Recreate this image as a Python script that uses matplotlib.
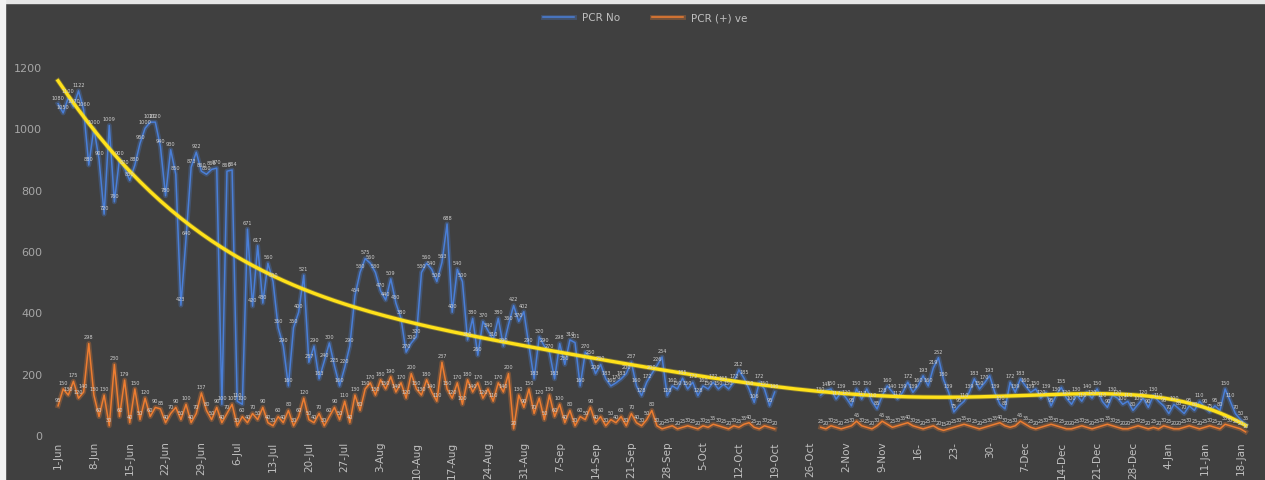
import numpy as np
import pandas as pd
import matplotlib
matplotlib.use("Agg")
import matplotlib.pyplot as plt
import matplotlib.patheffects as pe
from matplotlib.patches import Rectangle

# PCR No, 1-Jun .. 19-Oct
pcr_no_1 = [1080, 1050, 1100, 1070, 1122, 1060, 880, 1000, 900, 720,
            1009, 760, 900, 870, 830, 880, 950, 1000, 1020, 1020,
            940, 780, 930, 850, 423, 640, 873, 922, 860, 850,
            866, 870, 100, 860, 864, 110, 100, 671, 420, 617,
            430, 560, 500, 350, 290, 160, 350, 400, 521, 237,
            290, 183, 240, 300, 225, 160, 220, 290, 454, 530,
            575, 560, 530, 470, 440, 509, 430, 380, 270, 300,
            320, 530, 560, 540, 500, 563, 688, 400, 540, 500,
            310, 380, 260, 370, 340, 310, 380, 290, 360, 422,
            370, 402, 290, 183, 320, 290, 270, 183, 298, 230,
            310, 301, 160, 270, 250, 200, 230, 183, 160, 170,
            183, 200, 237, 160, 128, 172, 200, 226, 254, 128,
            160, 150, 185, 150, 172, 128, 160, 150, 172, 150,
            165, 150, 172, 212, 185, 150, 106, 172, 150, 95,
            140]
# PCR (+) ve, 1-Jun .. 19-Oct
pcr_pos_1 = [95, 150, 130, 175, 120, 140, 298, 130, 60, 130,
             30, 230, 60, 179, 40, 150, 50, 120, 60, 90,
             85, 40, 70, 90, 50, 100, 40, 70, 137, 80,
             50, 90, 40, 70, 100, 30, 60, 40, 70, 50,
             90, 40, 30, 60, 40, 80, 30, 60, 120, 50,
             40, 70, 30, 60, 90, 50, 110, 40, 130, 80,
             150, 170, 130, 180, 150, 190, 140, 170, 120, 200,
             150, 130, 180, 140, 110, 237, 150, 120, 170, 100,
             180, 140, 170, 120, 150, 110, 170, 140, 200, 20,
             130, 90, 150, 70, 120, 50, 130, 60, 100, 40,
             80, 30, 60, 50, 90, 40, 60, 30, 50, 40,
             60, 30, 70, 40, 30, 50, 80, 30, 20, 25,
             30, 20, 25, 30, 25, 20, 30, 25, 35, 30,
             25, 20, 30, 25, 35, 40, 25, 20, 30, 25,
             20]

# PCR No, 28-Oct .. 19-Jan
pcr_no_2 = [130, 145, 150, 117, 139, 120, 95, 150, 117, 150,
            110, 85, 128, 160, 140, 117, 139, 172, 139, 160,
            193, 160, 219, 252, 180, 139, 75, 95, 110, 139,
            183, 150, 170, 193, 139, 100, 85, 172, 139, 183,
            160, 139, 150, 120, 139, 95, 130, 155, 120, 100,
            130, 110, 140, 120, 150, 110, 90, 130, 120, 100,
            110, 80, 100, 120, 90, 130, 110, 95, 70, 100,
            85, 70, 95, 80, 110, 90, 75, 95, 80, 150,
            110, 70, 50, 35]
# PCR (+) ve, 28-Oct .. 19-Jan
pcr_pos_2 = [25, 20, 30, 25, 20, 25, 30, 45, 30, 25,
             20, 30, 45, 35, 25, 30, 35, 40, 30, 25,
             20, 25, 30, 20, 15, 20, 25, 30, 35, 30,
             25, 20, 25, 30, 35, 40, 30, 25, 30, 45,
             35, 25, 20, 25, 30, 35, 30, 25, 20, 20,
             25, 30, 25, 20, 25, 30, 35, 30, 25, 20,
             20, 25, 30, 25, 20, 25, 20, 30, 25, 20,
             20, 25, 30, 25, 20, 25, 30, 25, 20, 35,
             30, 25, 20, 10]

tick_labels = ['1-Jun', '8-Jun', '15-Jun', '22-Jun', '29-Jun', '6-Jul', '13-Jul',
               '20-Jul', '27-Jul', '3-Aug', '10-Aug', '17-Aug', '24-Aug', '31-Aug',
               '7-Sep', '14-Sep', '21-Sep', '28-Sep', '5-Oct', '12-Oct', '19-Oct',
               '26-Oct', '2-Nov', '9-Nov', '16-', '23-', '30-', '7-Dec', '14-Dec',
               '21-Dec', '28-Dec', '4-Jan', '11-Jan', '18-Jan']

d1 = pd.date_range('2020-06-01', periods=len(pcr_no_1))
d2 = pd.date_range('2020-10-28', periods=len(pcr_no_2))
s_no = pd.concat([pd.Series(pcr_no_1, index=d1), pd.Series(pcr_no_2, index=d2)])
s_pos = pd.concat([pd.Series(pcr_pos_1, index=d1), pd.Series(pcr_pos_2, index=d2)])
full = pd.date_range('2020-06-01', '2021-01-19')
s_no = s_no.reindex(full)
s_pos = s_pos.reindex(full)

bg = '#404040'
blue = '#4a7fd8'
orange = '#ed7d31'
txt = '#bfbfbf'

fig = plt.figure(figsize=(12.65, 4.81), dpi=100, facecolor=bg)
ax = fig.add_axes([0.0378, 0.0936, 0.959, 0.8098], facecolor=bg)

glow_b = [pe.Stroke(linewidth=3.5, foreground=blue, alpha=0.3), pe.Normal()]
glow_o = [pe.Stroke(linewidth=3.5, foreground=orange, alpha=0.3), pe.Normal()]
ax.plot(s_no.index, s_no.values, color=blue, lw=1.1, label='PCR No', path_effects=glow_b)
ax.plot(s_pos.index, s_pos.values, color=orange, lw=1.1, label='PCR (+) ve', path_effects=glow_o)

# polynomial trendline of PCR No (order 6)
ok = s_no.notna().values
t = (full - full[0]).days.values.astype(float)
coef = np.polyfit(t[ok] / 100.0, s_no.values[ok], 6)
trend = np.polyval(coef, t / 100.0)
ax.plot(full, trend, color='#ffe11a', lw=2.4, zorder=5,
        path_effects=[pe.Stroke(linewidth=3.6, foreground='#ffe11a', alpha=0.3), pe.Normal()])

# data labels
for s in (s_no, s_pos):
    for d, v in s.dropna().items():
        ax.annotate(f'{int(v)}', (d, v), xytext=(0, 3), textcoords='offset points',
                    ha='center', va='bottom', fontsize=3.6, color='#d0d0d0', zorder=6)

ax.set_ylim(0, 1270)
ax.set_yticks(range(0, 1201, 200))
ax.set_xlim(pd.Timestamp('2020-05-30'), pd.Timestamp('2021-01-22'))
ticks = pd.date_range('2020-06-01', periods=len(tick_labels), freq='7D')
ax.set_xticks(ticks)
ax.set_xticklabels(tick_labels, rotation=90)
ax.tick_params(axis='x', colors=txt, labelsize=7.5, length=0, pad=4)
ax.tick_params(axis='y', colors='#a6a6a6', labelsize=8, length=0, pad=4)
for sp in ax.spines.values():
    sp.set_visible(False)

fig.legend(loc='center', bbox_to_anchor=(0.51, 0.962), ncol=2, frameon=False,
           fontsize=7.5, labelcolor=txt, handlelength=3, columnspacing=3)

fig.patches.append(Rectangle((0, 0.992), 1, 0.008, transform=fig.transFigure,
                             color='#e6e6e6', zorder=10))
fig.patches.append(Rectangle((0, 0), 0.004, 1, transform=fig.transFigure,
                             color='#f2f2f2', zorder=10))

fig.savefig('out.png', dpi=100, facecolor=bg)
